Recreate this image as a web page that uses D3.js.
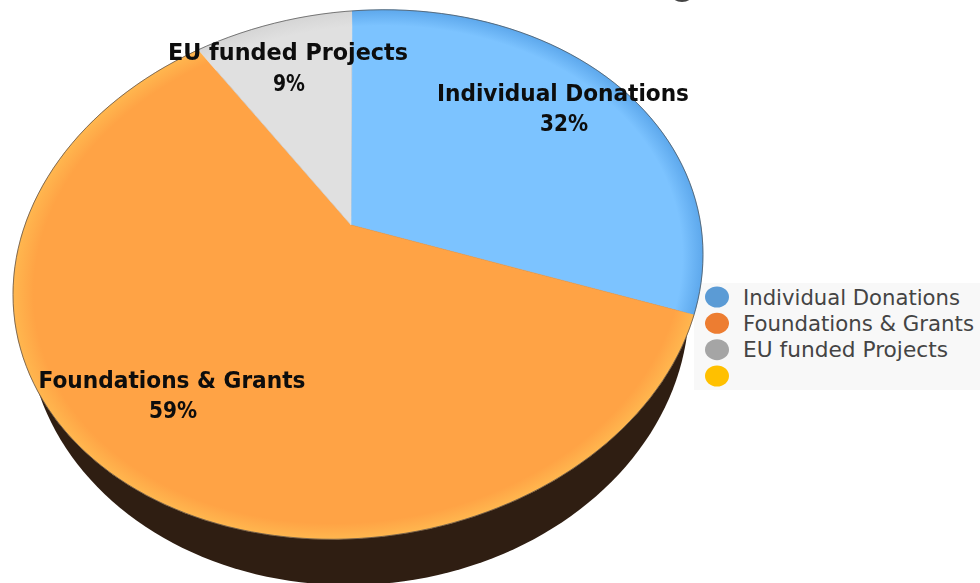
<!DOCTYPE html>
<html><head><meta charset="utf-8">
<script src="https://cdn.jsdelivr.net/npm/d3@7"></script>
<style>html,body{margin:0;padding:0;background:#fff;overflow:hidden}svg{display:block}</style>
</head><body><svg id="c" width="980" height="583"></svg>
<script>
const categories = ["Individual Donations", "Foundations & Grants", "EU funded Projects", ""];
const values = [32, 59, 9];
const percentLabels = ["32%", "59%", "9%"];
const faceColors = ["#7cc3ff", "#ffa345", "#e0e0e0"];
const rimColors = ["#5aa5ea", "#ffb950", "#d4d4d4"];
const legendColors = ["#5b9bd5", "#ed7d31", "#a5a5a5", "#ffc000"];

const svg = d3.select("#c");
const defs = svg.append("defs");
rimColors.forEach((c, i) => {
  const g = defs.append("radialGradient").attr("id", "rim" + i).attr("gradientUnits", "userSpaceOnUse")
    .attr("cx", 0).attr("cy", 0).attr("r", 1);
  g.append("stop").attr("offset", "0.94").attr("stop-color", c).attr("stop-opacity", 0);
  g.append("stop").attr("offset", "1").attr("stop-color", c).attr("stop-opacity", 0.9);
});
const soft = defs.append("filter").attr("id", "soft");
soft.append("feGaussianBlur").attr("stdDeviation", 0.45);

// title fragment clipped by the top of the picture
svg.append("ellipse").attr("cx", 682).attr("cy", -6).attr("rx", 11).attr("ry", 8).attr("fill", "#444");

// legend
const lg = svg.append("g");
lg.append("rect").attr("x", 694).attr("y", 283).attr("width", 286).attr("height", 107).attr("fill", "#f8f8f8");
const ly = d3.scalePoint().domain(d3.range(categories.length)).range([297, 376]);
const legendWidths = [217, 231, 205, 0];
lg.selectAll("ellipse").data(categories).join("ellipse")
  .attr("cx", 717).attr("cy", (d, i) => ly(i)).attr("rx", 12).attr("ry", 10.5)
  .attr("fill", (d, i) => legendColors[i]);
lg.selectAll("text").data(categories.filter(d => d)).join("text")
  .attr("x", 743).attr("y", (d, i) => ly(i) + 7.5)
  .attr("font-family", "DejaVu Sans").attr("font-size", 21).attr("fill", "#444")
  .attr("textLength", (d, i) => legendWidths[i]).attr("lengthAdjust", "spacingAndGlyphs")
  .text(d => d);

// tilted pie geometry: unit circle -> sheared ellipse in screen space
const cx = 358, cy = 274.5, A = 345, B = -20, D = 264, apex = [351, 225];
const shear = (x0, y0, a, b, d) => t => [x0 + a * Math.cos(t), y0 + b * Math.cos(t) + d * Math.sin(t)];
const E = shear(cx, cy, A, B, D);
const W = shear(358, 313, 331, -8, 272);
// perspective calibration: pie angle (deg) -> ellipse parameter (deg)
const persp = d3.scaleLinear().domain([0, 115.2, 327.6, 360]).range([-91, 13.1, 242.4, 269]);
const rad = d => d * Math.PI / 180, deg = r => r * 180 / Math.PI;
const line = d3.line();

// side wall
svg.append("path").attr("d", line(d3.range(0, 360, 2).map(d => W(rad(d)))) + "Z").attr("fill", "#2f1e12");

const arcs = d3.pie().sort(null)(values);
const facePath = a => {
  const t0 = persp(deg(a.startAngle)), t1 = persp(deg(a.endAngle));
  const pts = d3.range(0, 61).map(i => E(rad(t0 + (t1 - t0) * i / 60)));
  return line([apex, ...pts]) + "Z";
};
const face = svg.append("g");
face.selectAll("path.f").data(arcs).join("path").attr("class", "f")
  .attr("d", facePath).attr("fill", (d, i) => faceColors[i])
  .attr("stroke", (d, i) => faceColors[i]).attr("stroke-width", 0.6);
// rim tint, drawn through the same sheared mapping as the face
rimColors.forEach((c, i) => {
  defs.select("#rim" + i).attr("gradientTransform", `matrix(${A},${B},0,${D},${cx},${cy})`);
});
face.selectAll("path.r").data(arcs).join("path").attr("class", "r")
  .attr("d", facePath).attr("fill", (d, i) => `url(#rim${i})`);
const rim = d3.range(0, 360, 2).map(d => E(rad(d)));
svg.append("path").attr("d", line(rim) + "Z").attr("fill", "none")
  .attr("stroke", "#4d4d4d").attr("stroke-width", 0.9).attr("stroke-opacity", 0.8);

// labels
const labelPos = [[563, 101, 131, 252], [172, 388, 418, 267], [288, 60, 91, 240]];
const lab = svg.append("g").attr("font-family", "DejaVu Sans").attr("font-weight", "bold")
  .attr("font-size", 23).attr("fill", "#0a0a0a").attr("text-anchor", "middle").attr("filter", "url(#soft)");
values.forEach((v, i) => {
  const p = labelPos[i];
  lab.append("text").attr("x", p[0]).attr("y", p[1]).attr("textLength", p[3])
    .attr("lengthAdjust", "spacingAndGlyphs").text(categories[i]);
  lab.append("text").attr("x", p[0] + 1).attr("y", p[2]).attr("textLength", percentLabels[i].length * 16)
    .attr("lengthAdjust", "spacingAndGlyphs").text(percentLabels[i]);
});
</script></body></html>
